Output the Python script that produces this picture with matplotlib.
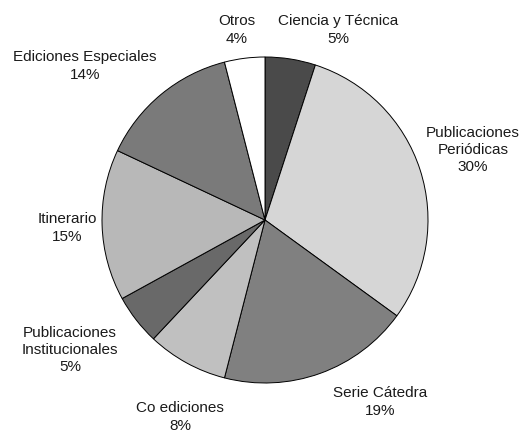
import matplotlib.pyplot as plt

plt.rcParams['font.family'] = ['Liberation Sans', 'DejaVu Sans']

# share of titles per collection (clockwise from 12 o'clock)
series = ['Ciencia y Técnica', 'Publicaciones\nPeriódicas', 'Serie Cátedra',
          'Co ediciones', 'Publicaciones\nInstitucionales', 'Itinerario',
          'Ediciones Especiales', 'Otros']
values = [5, 30, 19, 8, 5, 15, 14, 4]
shades = ['#4a4a4a', '#d6d6d6', '#808080', '#c0c0c0',
          '#696969', '#b8b8b8', '#7a7a7a', '#ffffff']

# where each label sits (pixel coords, y from the top)
label_xy = [(338, 30), (473, 150), (380, 402), (180, 417),
            (70, 350), (67, 228), (85, 66), (237, 30)]

W, H = 531, 433
fig = plt.figure(figsize=(W / 100, H / 100), dpi=100)
ax = fig.add_axes([0, 0, 1, 1])

ax.pie(values, colors=shades, startangle=90, counterclock=False,
       center=(265, H - 220), radius=163,
       wedgeprops=dict(edgecolor='black', linewidth=0.7))

for name, v, (x, y) in zip(series, values, label_xy):
    ax.text(x, H - y, f'{name}\n{v}%', ha='center', va='center',
            fontsize=11, color='#1a1a1a', linespacing=1.3)

ax.set_xlim(0, W)
ax.set_ylim(0, H)
ax.set_aspect('equal')
ax.axis('off')

fig.savefig('out.png', dpi=100)
